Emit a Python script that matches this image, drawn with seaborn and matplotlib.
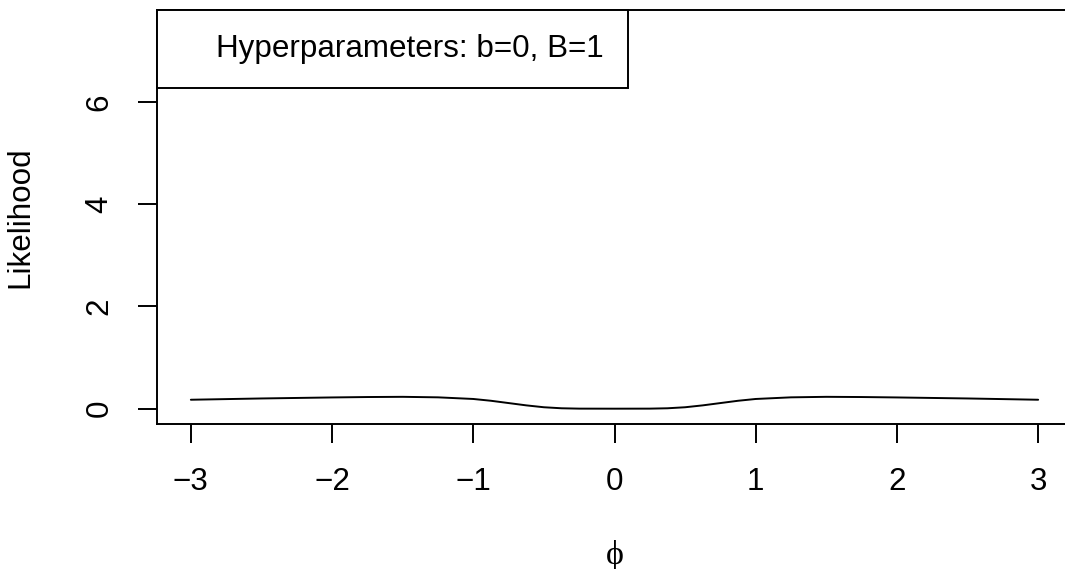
import numpy as np
import pandas as pd
import seaborn as sns
import matplotlib.pyplot as plt
import matplotlib.lines as mlines

# values
phi = [-3.0, -2.5, -2.0, -1.75, -1.5, -1.25, -1.0, -0.875, -0.75, -0.625, -0.5, -0.375, -0.25, 0.0,
       0.25, 0.375, 0.5, 0.625, 0.75, 0.875, 1.0, 1.25, 1.5, 1.75, 2.0, 2.5, 3.0]
likelihood = [0.175, 0.20, 0.22, 0.228, 0.232, 0.222, 0.19, 0.155, 0.11, 0.065, 0.028, 0.008, 0.001, 0.0,
              0.001, 0.008, 0.028, 0.065, 0.11, 0.155, 0.19, 0.222, 0.232, 0.228, 0.22, 0.20, 0.175]
x_ticks = [-3, -2, -1, 0, 1, 2, 3]
y_ticks = [0, 2, 4, 6]
legend_text = 'Hyperparameters: b=0, B=1'

df = pd.DataFrame({'phi': phi, 'likelihood': likelihood})

sns.set_style('ticks')
plt.rcParams['font.family'] = ['Liberation Sans', 'DejaVu Sans']
plt.rcParams['text.color'] = 'black'
plt.rcParams['axes.labelcolor'] = 'black'
plt.rcParams['xtick.color'] = 'black'
plt.rcParams['ytick.color'] = 'black'
fs = 22.6
lw = 1.4

fig = plt.figure(figsize=(10.65, 5.69), dpi=100)
ax = fig.add_axes([0.1474, 0.2548, 0.8592, 0.7276])

sns.lineplot(data=df, x='phi', y='likelihood', color='black', linewidth=lw,
             estimator=None, sort=False, ax=ax)

ax.set_xlim(-3.24, 3.24)
ax.set_ylim(-0.3, 7.8)
ax.set_xticks(x_ticks)
ax.set_yticks(y_ticks)
ax.set_xticklabels([f'{t}'.replace('-', '\u2212') for t in x_ticks], fontsize=fs)
ax.set_yticklabels([str(t) for t in y_ticks], fontsize=fs, rotation=90, va='center')
ax.tick_params(direction='out', length=13.7, width=lw, pad=17)

for s in ax.spines.values():
    s.set_visible(True)
    s.set_color('black')
    s.set_linewidth(lw)

ax.set_xlabel('\u03d5', fontsize=fs + 2, family=['Liberation Serif', 'DejaVu Serif'])
ax.set_ylabel('Likelihood', fontsize=fs)
ax.xaxis.set_label_coords(0.5, -0.28)
ax.yaxis.set_label_coords(-0.133, 0.5)

handle = mlines.Line2D([], [], linestyle='none')
leg = ax.legend([handle], [legend_text], loc='upper left', borderaxespad=0,
                fancybox=False, framealpha=1, edgecolor='black', fontsize=fs,
                borderpad=0.76, handlelength=0.68, handletextpad=0.45)
leg.get_frame().set_linewidth(lw)

fig.savefig('out.png', dpi=100)
